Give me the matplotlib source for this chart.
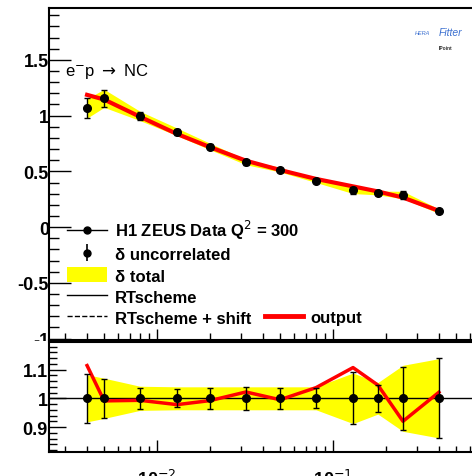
import matplotlib
matplotlib.use("Agg")
import matplotlib.pyplot as plt
from matplotlib.lines import Line2D
from matplotlib.patches import Patch, Rectangle
from matplotlib.ticker import MultipleLocator, LogLocator, NullFormatter
import numpy as np

plt.rcParams['font.family'] = ['Liberation Sans', 'DejaVu Sans']

# Bjorken x bins at Q^2 = 300
x = np.array([0.004, 0.005, 0.008, 0.013, 0.02, 0.032, 0.05, 0.08, 0.13, 0.18, 0.25, 0.40])
# reduced cross section (H1 ZEUS combined)
sigma = np.array([1.065, 1.155, 0.997, 0.854, 0.723, 0.583, 0.515, 0.417, 0.330, 0.306, 0.288, 0.143])
# relative uncertainties
unc_rel = np.array([0.085, 0.067, 0.037, 0.032, 0.037, 0.040, 0.037, 0.035, 0.090, 0.048, 0.110, 0.139])
tot_rel = np.array([0.082, 0.070, 0.042, 0.040, 0.040, 0.040, 0.040, 0.040, 0.088, 0.055, 0.115, 0.138])
# output / data ratio
ratio_out = np.array([1.114, 0.991, 0.993, 0.978, 0.992, 1.022, 0.995, 1.037, 1.107, 1.046, 0.920, 1.021])

fig = plt.figure(figsize=(4.72, 4.77), dpi=100)
W, H = 472, 477
def box(l, t, r, b):
    return [l / W, 1 - b / H, (r - l) / W, (b - t) / H]

ax = fig.add_axes(box(49, 8.5, 472, 340.7))
axr = fig.add_axes(box(49, 343.3, 472, 453.3))
ax.set_zorder(0)
axr.set_zorder(2)
# the lower pad hides the bottom of the upper pad's labels
fig.add_artist(Rectangle((0, 0), 1, 1 - 341.5 / H, transform=fig.transFigure,
                         facecolor='white', edgecolor='none', zorder=1))

yellow = '#ffff00'
pred = sigma * ratio_out

# top panel
ax.fill_between(x, sigma * (1 - tot_rel), sigma * (1 + tot_rel), color=yellow, lw=0, zorder=1)
ax.plot(x, pred, color='black', lw=1, zorder=2)
ax.plot(x, pred, color='black', lw=1, ls='--', zorder=2)
ax.plot(x, pred, color='red', lw=3, zorder=3)
ax.errorbar(x, sigma, yerr=sigma * unc_rel, fmt='o', color='black', ms=5.5,
            elinewidth=1, capsize=2, capthick=1, zorder=4)

ax.set_xscale('log')
ax.set_xlim(0.00243, 0.617)
ax.set_ylim(-1.01, 1.97)
ax.yaxis.set_minor_locator(MultipleLocator(0.1))
ax.set_yticks([1.5, 1, 0.5, 0, -0.5, -1])
ax.set_yticklabels(['1.5', '1', '0.5', '0', '-0.5', '-1'])
ax.xaxis.set_major_formatter(NullFormatter())
ax.xaxis.set_minor_formatter(NullFormatter())
ax.xaxis.set_minor_locator(LogLocator(subs=np.arange(2, 10)))
ax.tick_params(axis='y', which='major', direction='in', length=15.5, width=1,
               labelsize=13, pad=0)
ax.tick_params(axis='y', which='minor', direction='in', length=7, width=1)
ax.tick_params(axis='x', which='major', direction='in', length=8, width=1)
ax.tick_params(axis='x', which='minor', direction='in', length=5, width=1)
for lab in ax.get_yticklabels():
    lab.set_fontweight('bold')
for s in ['left', 'bottom', 'top']:
    ax.spines[s].set_linewidth(1.5)
ax.spines['right'].set_visible(False)

ax.text(0.038, 0.809, 'e$^{-}$p $\\rightarrow$ NC', transform=ax.transAxes,
        fontsize=12, va='center', ha='left')
# HERAFitter logo
ax.text(0.9, 0.926, 'HERA', transform=ax.transAxes, fontsize=4,
        color='#3a6fd0', style='italic', ha='right', va='center')
ax.text(0.976, 0.926, 'Fitter', transform=ax.transAxes, fontsize=7.5,
        color='#3a6fd0', style='italic', ha='right', va='center')
ax.text(0.938, 0.881, 'IPoint', transform=ax.transAxes, fontsize=3.5,
        color='#333333', fontweight='bold', ha='center', va='center')

h_data = Line2D([], [], color='black', lw=1, marker='o', ms=5)
h_unc = ax.errorbar([], [], yerr=[], fmt='o', color='black', ms=5, elinewidth=1.2)
h_tot = Patch(facecolor=yellow, edgecolor='none')
h_rt = Line2D([], [], color='black', lw=1)
h_sh = Line2D([], [], color='black', lw=1, ls='--')
leg = ax.legend([h_data, h_unc, h_tot, h_rt, h_sh],
                ['H1 ZEUS Data Q$^2$ = 300', 'δ uncorrelated', 'δ total',
                 'RTscheme', 'RTscheme + shift'],
                loc='upper left', bbox_to_anchor=(0.0426, 0.366), frameon=False,
                handlelength=2.4, handleheight=1.0, handletextpad=0.48,
                labelspacing=0.3, borderpad=0, borderaxespad=0,
                prop={'weight': 'bold', 'size': 12})
ax.add_artist(leg)
ax.legend([Line2D([], [], color='red', lw=3.5)], ['output'],
          loc='upper left', bbox_to_anchor=(0.51, 0.09), frameon=False,
          handlelength=2.3, handletextpad=0.42, borderpad=0, borderaxespad=0,
          prop={'weight': 'bold', 'size': 12})

# ratio panel
axr.fill_between(x, 1 - tot_rel, 1 + tot_rel, color=yellow, lw=0, zorder=1)
axr.axhline(1, color='black', lw=1, zorder=2)
axr.plot(x, ratio_out, color='red', lw=2.5, zorder=3)
axr.errorbar(x, np.ones_like(x), yerr=unc_rel, fmt='o', color='black', ms=5.5,
             elinewidth=1, capsize=2, capthick=1, zorder=4)
axr.set_xscale('log')
axr.set_xlim(0.00243, 0.617)
axr.set_ylim(0.812, 1.195)
axr.set_yticks([0.9, 1.0, 1.1])
axr.set_yticklabels(['0.9', '1', '1.1'])
axr.yaxis.set_minor_locator(MultipleLocator(0.02))
axr.xaxis.set_minor_locator(LogLocator(subs=np.arange(2, 10)))
axr.xaxis.set_minor_formatter(NullFormatter())
axr.set_xticks([0.01, 0.1])
axr.set_xticklabels(['10$^{-2}$', '10$^{-1}$'])
axr.tick_params(axis='y', which='major', direction='in', length=12, width=1,
                labelsize=13, pad=1)
axr.tick_params(axis='y', which='minor', direction='in', length=6, width=1)
axr.tick_params(axis='x', which='major', direction='in', length=9, width=1,
                labelsize=13, pad=12)
axr.tick_params(axis='x', which='minor', direction='in', length=4.5, width=1)
for lab in axr.get_yticklabels() + axr.get_xticklabels():
    lab.set_fontweight('bold')
for s in ['left', 'bottom', 'top']:
    axr.spines[s].set_linewidth(1.5)
axr.spines['right'].set_visible(False)

fig.savefig('out.png', dpi=100)
